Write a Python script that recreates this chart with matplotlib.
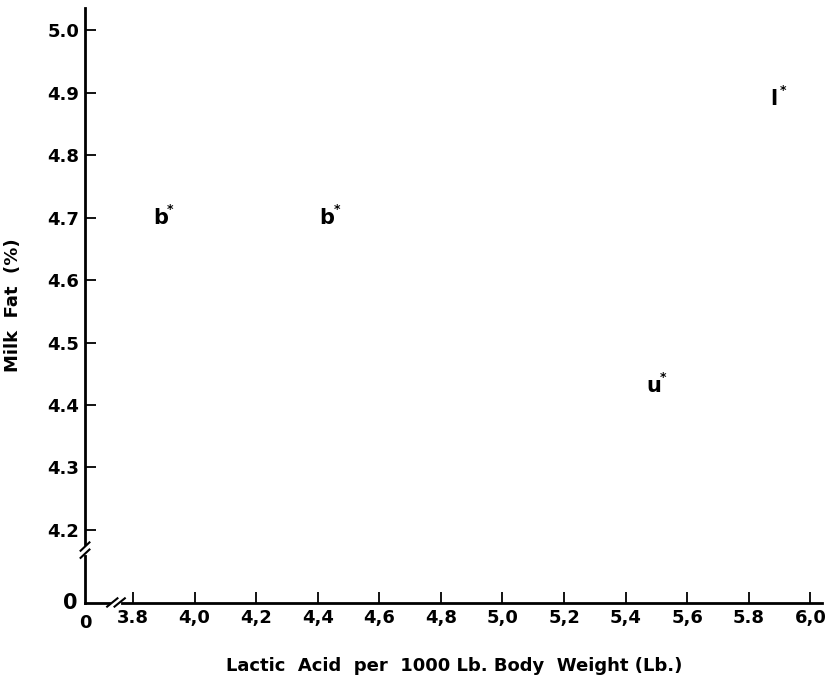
import matplotlib
matplotlib.use("Agg")
from matplotlib import pyplot as plt

# data
lactic = [3.89, 4.43, 5.49, 5.88]
milk_fat = [4.70, 4.70, 4.43, 4.89]
point_labels = ["b", "b", "u", "l"]

x_ticks = [3.8, 4.0, 4.2, 4.4, 4.6, 4.8, 5.0, 5.2, 5.4, 5.6, 5.8, 6.0]
x_ticklabels = ["3.8", "4,0", "4,2", "4,4", "4,6", "4,8", "5,0", "5,2", "5,4", "5,6", "5.8", "6,0"]
y_ticks = [4.2, 4.3, 4.4, 4.5, 4.6, 4.7, 4.8, 4.9, 5.0]
y_ticklabels = ["4.2", "4.3", "4.4", "4.5", "4.6", "4.7", "4.8", "4.9", "5.0"]

# where the broken axes start (labelled 0)
x0 = 3.644
y0 = 4.083

plt.rcParams['font.family'] = ['DejaVu Sans']

fig = plt.figure(figsize=(8.36, 6.9), dpi=100)
ax = fig.add_axes([0.1017, 0.126, 0.882, 0.862])
ax.set_xlim(x0, 6.039)
ax.set_ylim(y0, 5.035)

for side in ["top", "right"]:
    ax.spines[side].set_visible(False)
for side in ["left", "bottom"]:
    ax.spines[side].set_linewidth(2)

ax.set_xticks(x_ticks)
ax.set_xticklabels(x_ticklabels, fontsize=13, fontweight="bold")
ax.set_yticks(y_ticks)
ax.set_yticklabels(y_ticklabels, fontsize=13, fontweight="bold")
ax.tick_params(axis="both", direction="in", length=8, width=1.3, pad=4)

# the "0" at the origin of each axis
ax.text(x0, y0 - 0.018, "0", ha="center", va="top", fontsize=13, fontweight="bold")
ax.text(x0 - 0.025, y0, "0", ha="right", va="center", fontsize=15, fontweight="bold")

# break marks, with a small gap in the axis line
tr = ax.transAxes
ax.plot([0.038, 0.046], [0, 0], color="white", lw=3, transform=tr, clip_on=False, zorder=5)
for dx in [0.0, 0.010]:
    ax.plot([0.030 + dx, 0.044 + dx], [-0.006, 0.008], color="black", lw=1.5,
            transform=tr, clip_on=False, zorder=6)
ax.plot([0, 0], [0.085, 0.093], color="white", lw=3, transform=tr, clip_on=False, zorder=5)
for dy in [0.0, 0.012]:
    ax.plot([-0.006, 0.006], [0.076 + dy, 0.090 + dy], color="black", lw=1.5,
            transform=tr, clip_on=False, zorder=6)

# letter markers with asterisks
for x, y, s in zip(lactic, milk_fat, point_labels):
    ax.text(x, y, s, ha="center", va="center", fontsize=15, fontweight="bold")
    ax.annotate("*", (x, y), xytext=(7, 6), textcoords="offset points",
                ha="center", va="center", fontsize=9, fontweight="bold")

ax.set_xlabel("Lactic  Acid  per  1000 Lb. Body  Weight (Lb.)", fontsize=13,
              fontweight="bold", labelpad=22)
ax.set_ylabel("Milk  Fat  (%)", fontsize=13, fontweight="bold", labelpad=18)

fig.savefig("out.png", dpi=100)
